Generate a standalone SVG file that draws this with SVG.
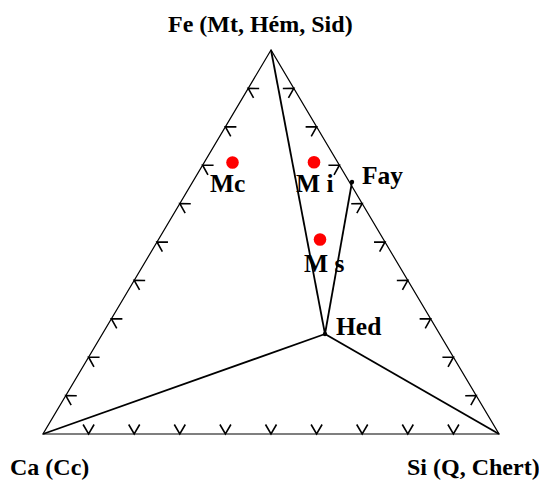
<svg xmlns="http://www.w3.org/2000/svg" xmlns:xlink="http://www.w3.org/1999/xlink" width="539" height="481" viewBox="0 0 539 481">
<style>
.lbl{font-family:"Liberation Serif","Times New Roman",serif;font-weight:bold;font-size:24px;fill:#000}
.big{font-size:25.5px}
.edge{fill:none;stroke:#000;stroke-width:1.2}
.inner{fill:none;stroke:#000;stroke-width:1.8}
.tick{fill:none;stroke:#000;stroke-width:1.6}
.pt{fill:#000}
.red{fill:#ff0000}
</style>
<defs>
<path id="chev" class="tick" d="M-5.5,9.5 L0,0 L5.5,9.5"/>
</defs>
<rect width="539" height="481" fill="#fff"/>
<g id="triangle">
<polygon class="edge" points="271,50 43,434 499,434"/>
</g>
<g id="ticks">
<use xlink:href="#chev" transform="translate(65.8,395.6) rotate(-59.3)"/>
<use xlink:href="#chev" transform="translate(88.6,357.2) rotate(-59.3)"/>
<use xlink:href="#chev" transform="translate(111.4,318.8) rotate(-59.3)"/>
<use xlink:href="#chev" transform="translate(134.2,280.4) rotate(-59.3)"/>
<use xlink:href="#chev" transform="translate(157,242) rotate(-59.3)"/>
<use xlink:href="#chev" transform="translate(179.8,203.6) rotate(-59.3)"/>
<use xlink:href="#chev" transform="translate(202.6,165.2) rotate(-59.3)"/>
<use xlink:href="#chev" transform="translate(225.4,126.8) rotate(-59.3)"/>
<use xlink:href="#chev" transform="translate(248.2,88.4) rotate(-59.3)"/>
<use xlink:href="#chev" transform="translate(293.8,88.4) rotate(59.3)"/>
<use xlink:href="#chev" transform="translate(316.6,126.8) rotate(59.3)"/>
<use xlink:href="#chev" transform="translate(339.4,165.2) rotate(59.3)"/>
<use xlink:href="#chev" transform="translate(362.2,203.6) rotate(59.3)"/>
<use xlink:href="#chev" transform="translate(385,242) rotate(59.3)"/>
<use xlink:href="#chev" transform="translate(407.8,280.4) rotate(59.3)"/>
<use xlink:href="#chev" transform="translate(430.6,318.8) rotate(59.3)"/>
<use xlink:href="#chev" transform="translate(453.4,357.2) rotate(59.3)"/>
<use xlink:href="#chev" transform="translate(476.2,395.6) rotate(59.3)"/>
<use xlink:href="#chev" transform="translate(88.6,434) rotate(180)"/>
<use xlink:href="#chev" transform="translate(134.2,434) rotate(180)"/>
<use xlink:href="#chev" transform="translate(179.8,434) rotate(180)"/>
<use xlink:href="#chev" transform="translate(225.4,434) rotate(180)"/>
<use xlink:href="#chev" transform="translate(271,434) rotate(180)"/>
<use xlink:href="#chev" transform="translate(316.6,434) rotate(180)"/>
<use xlink:href="#chev" transform="translate(362.2,434) rotate(180)"/>
<use xlink:href="#chev" transform="translate(407.8,434) rotate(180)"/>
<use xlink:href="#chev" transform="translate(453.4,434) rotate(180)"/>
</g>
<g id="connectors">
<line class="inner" x1="271" y1="50" x2="325" y2="334"/>
<line class="inner" x1="352" y1="182" x2="325" y2="334"/>
<line class="inner" x1="325" y1="334" x2="43" y2="434"/>
<line class="inner" x1="325" y1="334" x2="499" y2="434"/>
</g>
<g id="node-Fe"><text class="lbl" x="168" y="32">Fe (Mt, Hém, Sid)</text></g>
<g id="node-Ca"><text class="lbl" x="10" y="475">Ca (Cc)</text></g>
<g id="node-Si"><text class="lbl" x="407" y="475">Si (Q, Chert)</text></g>
<g id="node-Fay"><circle class="pt" cx="352" cy="182" r="2.2"/><text class="lbl big" x="362" y="184">Fay</text></g>
<g id="node-Hed"><circle class="pt" cx="325" cy="334" r="2.2"/><text class="lbl big" x="336" y="335">Hed</text></g>
<g id="node-Mc"><circle class="red" cx="232.5" cy="162.5" r="6.3"/><text class="lbl big" x="210" y="192">Mc</text></g>
<g id="node-Mi"><circle class="red" cx="314" cy="162.3" r="6.3"/><text class="lbl big" x="296" y="192">M i</text></g>
<g id="node-Ms"><circle class="red" cx="320" cy="239.5" r="6.3"/><text class="lbl big" x="304" y="272">M s</text></g>
</svg>
